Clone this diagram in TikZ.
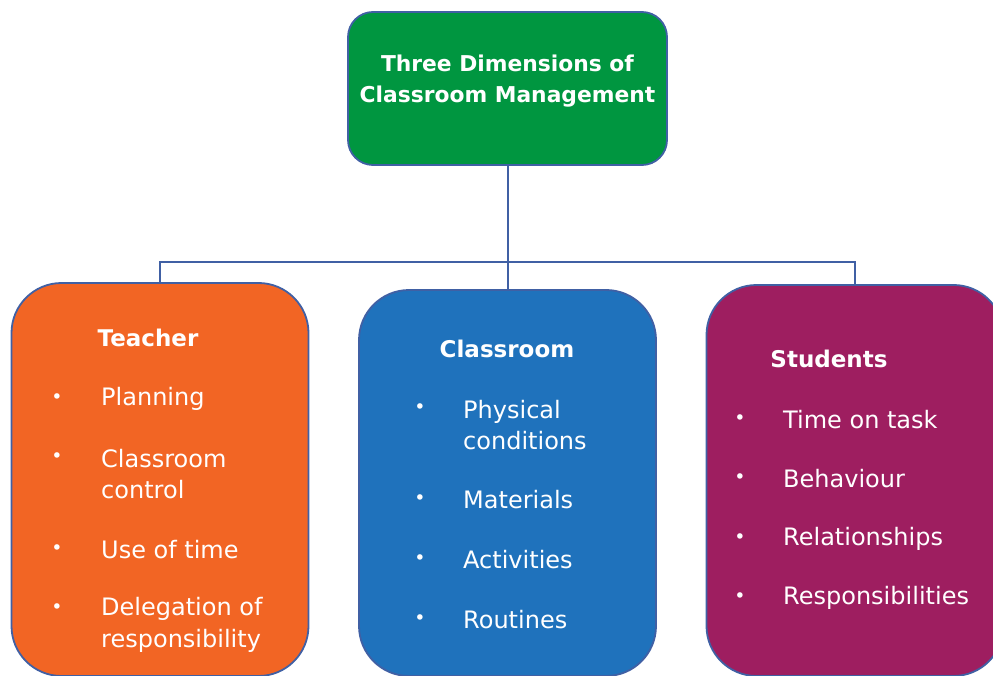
\documentclass[tikz,border=0pt]{standalone}
\usepackage{fontspec}
\setmainfont{DejaVu Sans}
\usetikzlibrary{positioning}
\definecolor{topgreen}{RGB}{0,150,64}
\definecolor{teachorange}{RGB}{242,101,36}
\definecolor{roomblue}{RGB}{31,114,188}
\definecolor{studpurple}{RGB}{158,30,96}
\definecolor{edgeblue}{RGB}{64,96,164}

\begin{document}
\begin{tikzpicture}[x=1pt,y=-1pt]
	\tikzstyle{box}=[draw=edgeblue, line width=1.8pt, rounded corners=50pt, inner sep=0pt, minimum width=297, minimum height=393]
	\tikzstyle{head}=[text=white, font=\bfseries\fontsize{23}{31}\selectfont, inner sep=0pt]
	\tikzstyle{item}=[text=white, anchor=west, align=left, font=\fontsize{24}{31.5}\selectfont, inner sep=0pt]
	\tikzstyle{dot}=[text=white, font=\fontsize{19}{19}\selectfont, inner sep=0pt]
	\tikzstyle{link}=[draw=edgeblue, line width=2pt]

	\useasboundingbox (0,0) rectangle (993,676);

	% title
	\node [box, fill=topgreen, minimum width=319, minimum height=153, rounded corners=25pt] (top) at (507.5,88.5) {};
	\node [head, align=center, font=\bfseries\fontsize{21.8}{31}\selectfont] (title) at (507.5,81.5) {Three Dimensions of\\Classroom Management};

	% the three dimensions
	\node [box, fill=teachorange] (teacher) at (160,479.5) {};
	\node [box, fill=roomblue, minimum height=386] (classroom) at (507.5,483) {};
	\node [box, fill=studpurple, minimum height=391] (students) at (855,480.5) {};

	\coordinate (bar) at (0,262);
	\draw [link] (top.south) -- (classroom.north);
	\draw [link] (teacher.north) -- (teacher.north |- bar) -- (students.north |- bar) -- (students.north);

	% Teacher
	\node [head] (teacher-head) at (148,338) {Teacher};
	\foreach \b/\y/\t [count=\i] in {399/399/Planning, 458/474/{Classroom\\control}, 550/550/Use of time, 609/625/{Delegation of\\responsibility}} {
		\node [dot] (teacher-dot-\i) at (57,\b) {•};
		\node [item] (teacher-item-\i) at (101,\y) {\t};
	}

	% Classroom
	\node [head] (classroom-head) at (507,349) {Classroom};
	\foreach \b/\y/\t [count=\i] in {409/425/{Physical\\conditions}, 500/500/Materials, 560/560/Activities, 620/620/Routines} {
		\node [dot] (classroom-dot-\i) at (420,\b) {•};
		\node [item] (classroom-item-\i) at (463,\y) {\t};
	}

	% Students
	\node [head] (students-head) at (829,359) {Students};
	\foreach \b/\y/\t [count=\i] in {420/420/Time on task, 479/479/Behaviour, 539/539/Relationships, 598/598/Responsibilities} {
		\node [dot] (students-dot-\i) at (740,\b) {•};
		\node [item] (students-item-\i) at (783,\y) {\t};
	}
\end{tikzpicture}
\end{document}
